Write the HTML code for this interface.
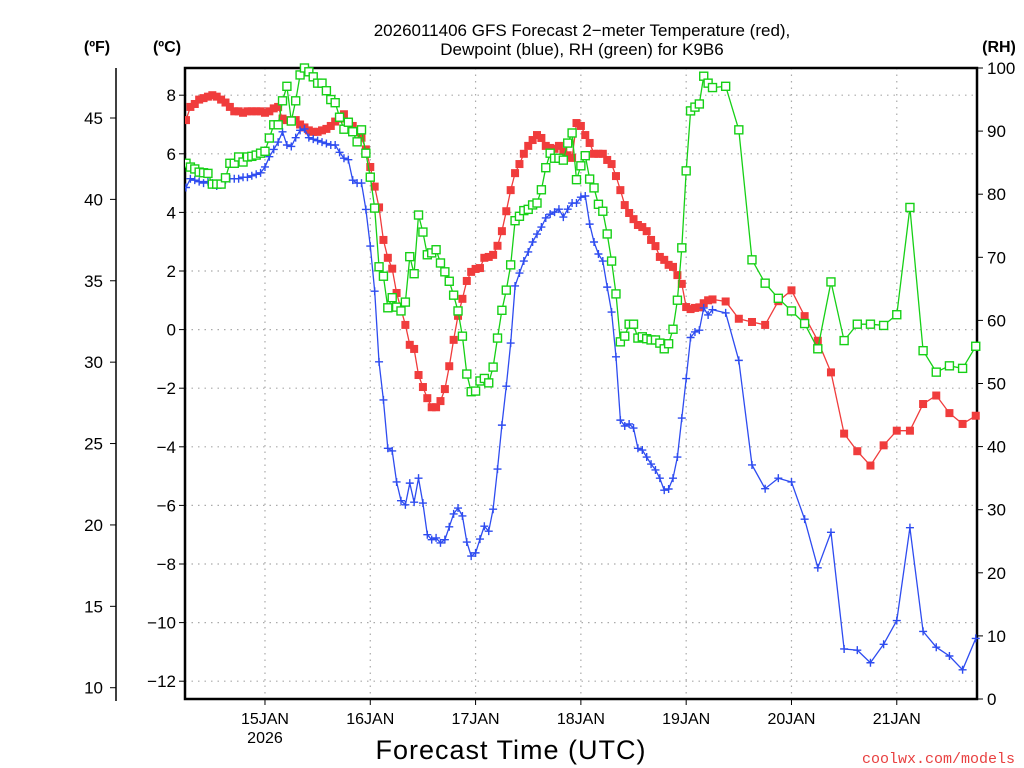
<!DOCTYPE html>
<html><head><meta charset="utf-8"><style>
html,body{margin:0;padding:0;background:#fff}
svg{display:block;font-family:"Liberation Sans",sans-serif}
</style></head><body>
<svg id="chart" width="1024" height="768" viewBox="0 0 1024 768" xmlns="http://www.w3.org/2000/svg">
<text x="582" y="36" text-anchor="middle" font-size="17" fill="#000">2026011406 GFS Forecast 2−meter Temperature (red),</text>
<text x="582" y="55" text-anchor="middle" font-size="17" fill="#000">Dewpoint (blue), RH (green) for K9B6</text>
<text x="97" y="52" text-anchor="middle" font-size="16" font-weight="bold">(ºF)</text>
<text x="167" y="52" text-anchor="middle" font-size="16" font-weight="bold">(ºC)</text>
<text x="999" y="52" text-anchor="middle" font-size="16" font-weight="bold">(RH)</text>
<g id="grid"></g>
<g id="axes"></g>
<g id="series"></g>
<text x="511" y="759" text-anchor="middle" font-size="27" fill="#000" letter-spacing="1">Forecast Time (UTC)</text>
<text x="1015" y="763" text-anchor="end" font-size="15" fill="#e84040" font-family="Liberation Mono, monospace">coolwx.com/models</text>
</svg>
<script>
const hours=[0,1,2,3,4,5,6,7,8,9,10,11,12,13,14,15,16,17,18,19,20,21,22,23,24,25,26,27,28,29,30,31,32,33,34,35,36,37,38,39,40,41,42,43,44,45,46,47,48,49,50,51,52,53,54,55,56,57,58,59,60,61,62,63,64,65,66,67,68,69,70,71,72,73,74,75,76,77,78,79,80,81,82,83,84,85,86,87,88,89,90,91,92,93,94,95,96,97,98,99,100,101,102,103,104,105,106,107,108,109,110,111,112,113,114,115,116,117,118,119,120,123,126,129,132,135,138,141,144,147,150,153,156,159,162,165,168,171,174,177,180];
const tempC=[7.15,7.6,7.7,7.85,7.9,7.95,8.0,7.95,7.85,7.75,7.6,7.45,7.45,7.4,7.45,7.45,7.45,7.45,7.4,7.45,7.55,7.6,7.2,7.15,7.1,7.15,7.0,6.9,6.8,6.75,6.75,6.8,6.85,6.95,7.1,7.2,7.35,7.1,6.95,6.75,6.55,6.15,5.55,4.88,4.17,3.06,2.45,2.08,1.25,0.7,0.16,-0.52,-0.66,-1.55,-1.96,-2.34,-2.65,-2.65,-2.44,-2.03,-1.25,-0.35,0.47,1.05,1.66,1.97,2.07,2.10,2.45,2.48,2.55,2.86,3.36,4.04,4.76,5.34,5.65,6.0,6.27,6.47,6.64,6.54,6.27,6.2,6.17,6.27,6.07,5.95,5.86,7.05,6.95,6.64,6.37,6.0,6.0,6.0,5.79,5.65,5.24,4.76,4.25,3.98,3.77,3.57,3.50,3.36,3.06,2.85,2.48,2.38,2.21,2.14,1.86,1.56,0.77,0.70,0.74,0.76,0.9,1.0,1.03,0.96,0.37,0.26,0.16,0.97,1.34,0.46,-0.38,-1.46,-3.55,-4.15,-4.64,-3.95,-3.45,-3.45,-2.54,-2.25,-2.85,-3.22,-2.94];
const dewC=[4.85,5.15,5.1,5.05,5.0,5.05,5.0,4.9,4.95,5.1,5.15,5.15,5.15,5.2,5.2,5.25,5.3,5.35,5.55,5.9,6.15,6.4,6.75,6.3,6.25,6.55,6.8,6.85,6.55,6.5,6.45,6.4,6.35,6.3,6.3,6.05,5.85,5.8,5.1,5.0,5.0,4.1,2.85,1.31,-1.1,-2.4,-4.05,-4.14,-5.2,-5.84,-5.98,-5.24,-5.89,-5.07,-5.92,-7.0,-7.17,-7.11,-7.28,-7.17,-6.73,-6.29,-6.09,-6.36,-7.25,-7.73,-7.62,-7.15,-6.71,-6.88,-6.13,-4.76,-3.26,-1.93,-0.46,1.49,1.93,2.34,2.65,2.99,3.26,3.5,3.81,3.94,4.01,4.11,3.84,4.11,4.32,4.32,4.52,4.56,3.6,2.99,2.58,2.34,1.45,0.6,-0.93,-3.09,-3.29,-3.22,-3.36,-4.05,-4.11,-4.35,-4.59,-4.79,-5.07,-5.48,-5.44,-5.07,-4.35,-3.02,-1.67,-0.27,-0.08,-0.02,0.74,0.5,0.68,0.57,-1.05,-4.62,-5.43,-5.07,-5.20,-6.47,-8.13,-6.92,-10.90,-10.94,-11.37,-10.74,-9.93,-6.76,-10.30,-10.84,-11.14,-11.61,-10.54];
const rhPct=[84.9,84.3,84.0,83.5,83.4,83.3,81.6,81.6,81.6,82.6,84.9,84.9,85.9,85.1,85.9,86.0,86.2,86.5,86.8,88.9,91.0,91.0,94.8,97.1,91.6,94.8,98.9,100,99.4,98.6,97.6,97.6,96.4,95.0,94.5,92.2,90.3,91.4,89.9,88.3,90.2,86.5,82.7,77.8,68.5,67.0,62.0,63.6,62.1,61.5,62.9,70.1,67.4,76.7,74.0,70.4,70.7,71.2,69.1,67.7,66.2,64.0,61.5,57.5,51.5,48.7,48.8,50.4,50.8,50.1,52.6,57.2,61.6,64.8,68.8,75.8,76.5,77.4,77.6,78.3,78.6,80.7,84.2,86.5,85.7,85.7,85.4,88.1,89.7,82.3,84.5,86.1,82.4,81.0,78.4,77.3,73.7,69.4,64.2,56.6,57.5,59.4,59.4,57.2,57.4,57.1,56.9,56.9,56.4,55.5,56.3,58.6,63.2,71.5,83.7,93.2,93.8,94.3,98.7,97.6,96.9,97.1,90.2,69.6,65.9,63.5,61.5,59.5,55.5,66.1,56.8,59.4,59.4,59.2,60.9,77.9,55.2,51.8,52.8,52.4,55.9];
const dayLabels=["15JAN","16JAN","17JAN","18JAN","19JAN","20JAN","21JAN"];
const dayHours=[18,42,66,90,114,138,162];
const cTicks=[8,6,4,2,0,-2,-4,-6,-8,-10,-12];
const fTicks=[45,40,35,30,25,20,15,10];
const rhTicks=[100,90,80,70,60,50,40,30,20,10,0];

const NS="http://www.w3.org/2000/svg";
const L=185,R=977,T=68,B=699;
const xH=h=>186+h*105.3/24;
const yC=c=>329.6-c*29.3;
const yF=f=>yC((f-32)*5/9);
const yRH=r=>B-r*(B-T)/100;
function mk(tag,attrs,parent){const e=document.createElementNS(NS,tag);for(const k in attrs)e.setAttribute(k,attrs[k]);parent.appendChild(e);return e;}
const grid=document.getElementById('grid'),axes=document.getElementById('axes'),ser=document.getElementById('series');

cTicks.forEach(c=>{
  const y=yC(c);
  const g=mk('line',{x1:L,x2:R,y1:y,y2:y,stroke:'#aaa','stroke-width':1.2,'stroke-dasharray':'1.5 5'},grid);
  
  
  const t=mk('line',{x1:L-6,x2:L,y1:y,y2:y,stroke:'#000','stroke-width':1},axes);
  
  
  const tx=mk('text',{x:L-9,y:y+6,'text-anchor':'end','font-size':17},axes);
  tx.textContent=(c<0?'−':'')+Math.abs(c);
  
  
});
dayHours.forEach((h,i)=>{
  const x=xH(h);
  const g=mk('line',{x1:x,x2:x,y1:T,y2:B,stroke:'#aaa','stroke-width':1.2,'stroke-dasharray':'1.5 5'},grid);
  
  
  const t=mk('line',{x1:x,x2:x,y1:B,y2:B+6,stroke:'#000','stroke-width':1},axes);
  
  
  const tx=mk('text',{x:x,y:724,'text-anchor':'middle','font-size':16},axes);
  tx.textContent=dayLabels[i];
  
  
});
const yr=mk('text',{x:xH(dayHours[0]),y:743,'text-anchor':'middle','font-size':16},axes);
yr.textContent='2026';



const fl=mk('line',{x1:116,x2:116,y1:T,y2:B+2,stroke:'#000','stroke-width':1.5},axes);


fTicks.forEach(f=>{
  const y=yF(f);
  const t=mk('line',{x1:110,x2:116,y1:y,y2:y,stroke:'#000','stroke-width':1},axes);
  
  
  const tx=mk('text',{x:103,y:y+6,'text-anchor':'end','font-size':17},axes);
  tx.textContent=f;
  
  
});
rhTicks.forEach(r=>{
  const y=yRH(r);
  const t=mk('line',{x1:R,x2:R+6,y1:y,y2:y,stroke:'#000','stroke-width':1},axes);
  
  
  const tx=mk('text',{x:987,y:y+6,'text-anchor':'start','font-size':17},axes);
  tx.textContent=r;
  
  
});
const frame=mk('rect',{x:L,y:T,width:R-L,height:B-T,fill:'none',stroke:'#000','stroke-width':2.5},axes);



const clip=mk('clipPath',{id:'pc'},ser);
mk('rect',{x:L,y:T-6,width:R-L+6,height:B-T+6},clip);

function drawSeries(vals,yfn,color,kind,name){
  const g=mk('g',{'clip-path':'url(#pc)'},ser);
  
  
  const pts=vals.map((v,i)=>xH(hours[i]).toFixed(1)+','+yfn(v).toFixed(1)).join(' ');
  const pl=mk('polyline',{points:pts,fill:'none',stroke:color,'stroke-width':1.3},g);
  
  
  vals.forEach((v,i)=>{
    const x=xH(hours[i]),y=yfn(v);let m;
    if(kind==='fill'){m=mk('rect',{x:x-4,y:y-4,width:8,height:8,fill:color},g);}
    else if(kind==='open'){m=mk('rect',{x:x-4,y:y-4,width:8,height:8,fill:'#fff',stroke:color,'stroke-width':1.4},g);}
    else{m=mk('path',{d:`M${x-4},${y}H${x+4}M${x},${y-4}V${y+4}`,stroke:color,'stroke-width':1.4},g);}
    
    
  });
}
drawSeries(tempC,yC,'#f03c3c','fill','temperature');
drawSeries(dewC,yC,'#2e4cf0','plus','dewpoint');
drawSeries(rhPct,yRH,'#16d016','open','relative-humidity');
</script>
</body></html>
